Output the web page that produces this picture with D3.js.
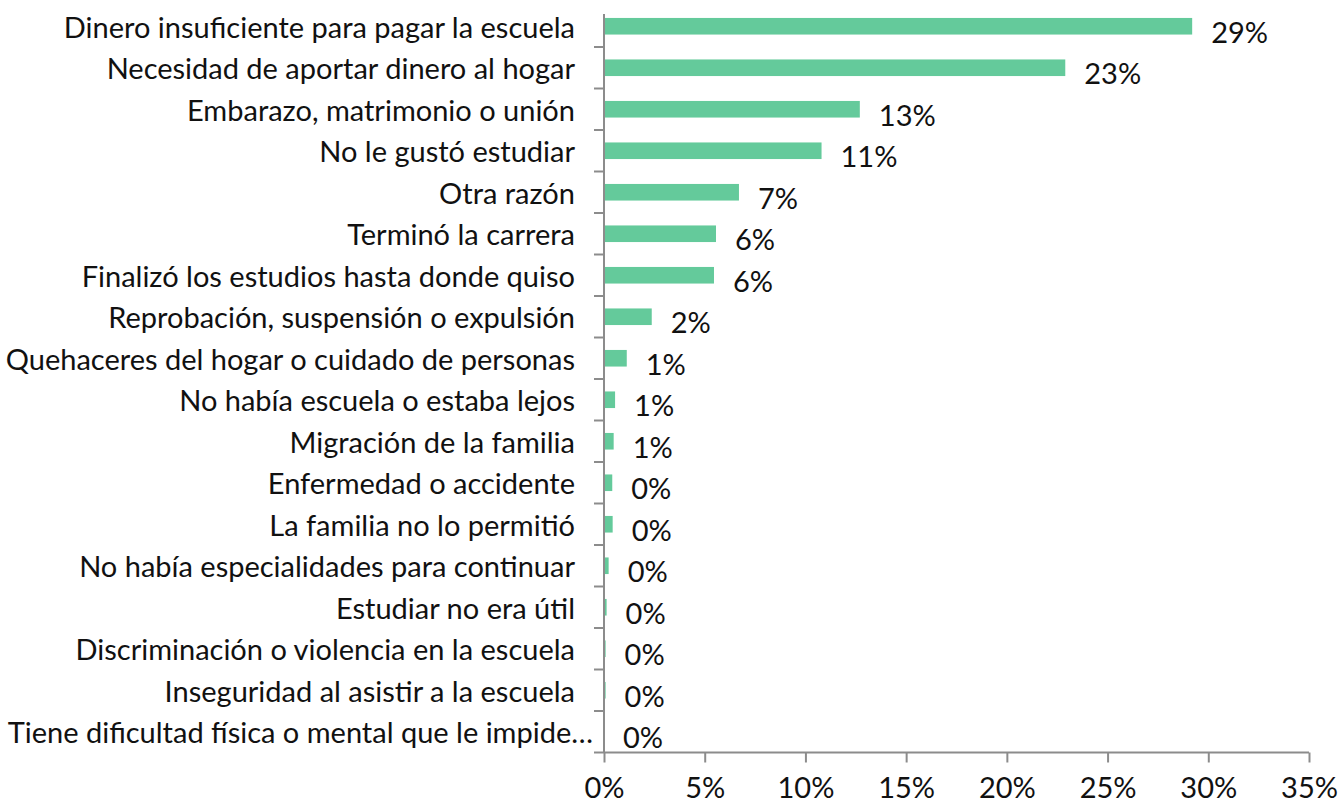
<!DOCTYPE html>
<html><head><meta charset="utf-8">
<script src="https://cdn.jsdelivr.net/npm/d3@7"></script>
<style>body{margin:0;background:#fff}svg{display:block}</style>
</head><body>
<svg id="chart" width="1340" height="806"></svg>
<script>
const categories = [
  "Dinero insuficiente para pagar la escuela",
  "Necesidad de aportar dinero al hogar",
  "Embarazo, matrimonio o unión",
  "No le gustó estudiar",
  "Otra razón",
  "Terminó la carrera",
  "Finalizó los estudios hasta donde quiso",
  "Reprobación, suspensión o expulsión",
  "Quehaceres del hogar o cuidado de personas",
  "No había escuela o estaba lejos",
  "Migración de la familia",
  "Enfermedad o accidente",
  "La familia no lo permitió",
  "No había especialidades para continuar",
  "Estudiar no era útil",
  "Discriminación o violencia en la escuela",
  "Inseguridad al asistir a la escuela",
  "Tiene dificultad física o mental que le impide…"
];
const values = [29.2, 22.9, 12.7, 10.8, 6.7, 5.56, 5.46, 2.37, 1.13, 0.55, 0.48, 0.41, 0.43, 0.23, 0.13, 0.08, 0.08, 0.0];
const valueLabels = ["29%","23%","13%","11%","7%","6%","6%","2%","1%","1%","1%","0%","0%","0%","0%","0%","0%","0%"];
const xTicks = [0,5,10,15,20,25,30,35];

const svg = d3.select("#chart");
const FONT = "Lato, 'Noto Sans', sans-serif";
const FS = 29;
const axisColor = "#8c8c8c";
const barColor = "#64CA9B";

const x = d3.scaleLinear().domain([0,35]).range([604,1309]);
const y = d3.scaleBand().domain(categories).range([5.5,752.5]).padding(0);
const barH = y.bandwidth()*0.4;

// bars
svg.append("g").selectAll("rect").data(categories).join("rect")
  .attr("x", x(0))
  .attr("y", d => y(d) + (y.bandwidth()-barH)/2)
  .attr("width", (d,i) => Math.max(0, x(values[i]) - x(0)))
  .attr("height", barH)
  .attr("fill", barColor);

// value labels
svg.append("g").selectAll("text").data(categories).join("text")
  .attr("x", (d,i) => x(values[i]) + 19)
  .attr("y", d => y(d) + y.bandwidth()/2 + 5)
  .attr("dominant-baseline","central")
  .attr("font-family", FONT).attr("font-size", FS).attr("fill","#111")
  .text((d,i) => valueLabels[i]);

// y axis line
svg.append("line").attr("x1",x(0)).attr("x2",x(0)).attr("y1",14).attr("y2",752.5)
  .attr("stroke",axisColor).attr("stroke-width",2);
// y ticks at band boundaries
const bounds = categories.slice(1).map(c => y(c)).concat([752.5]);
svg.append("g").selectAll("line").data(bounds).join("line")
  .attr("x1", x(0)-10).attr("x2", x(0)).attr("y1", d=>d).attr("y2", d=>d)
  .attr("stroke",axisColor).attr("stroke-width",2);

// category labels
svg.append("g").selectAll("text").data(categories).join("text")
  .attr("x", (d,i) => i === categories.length-1 ? 593 : 575)
  .attr("y", d => y(d) + y.bandwidth()/2)
  .attr("text-anchor","end").attr("dominant-baseline","central")
  .attr("font-family", FONT).attr("font-size", FS).attr("fill","#111")
  .text(d => d);

// x axis
const xAxis = d3.axisBottom(x).tickValues(xTicks).tickFormat(d => d + "%").tickSize(10).tickPadding(15);
const gx = svg.append("g").attr("transform","translate(0,752.5)").call(xAxis);
gx.select(".domain").attr("stroke",axisColor).attr("stroke-width",2).attr("d", `M${x(0)},0H${x(35)}`);
gx.selectAll(".tick line").attr("stroke",axisColor).attr("stroke-width",2);
gx.selectAll(".tick text").attr("font-family",FONT).attr("font-size",FS).attr("fill","#111");
</script>
</body></html>
